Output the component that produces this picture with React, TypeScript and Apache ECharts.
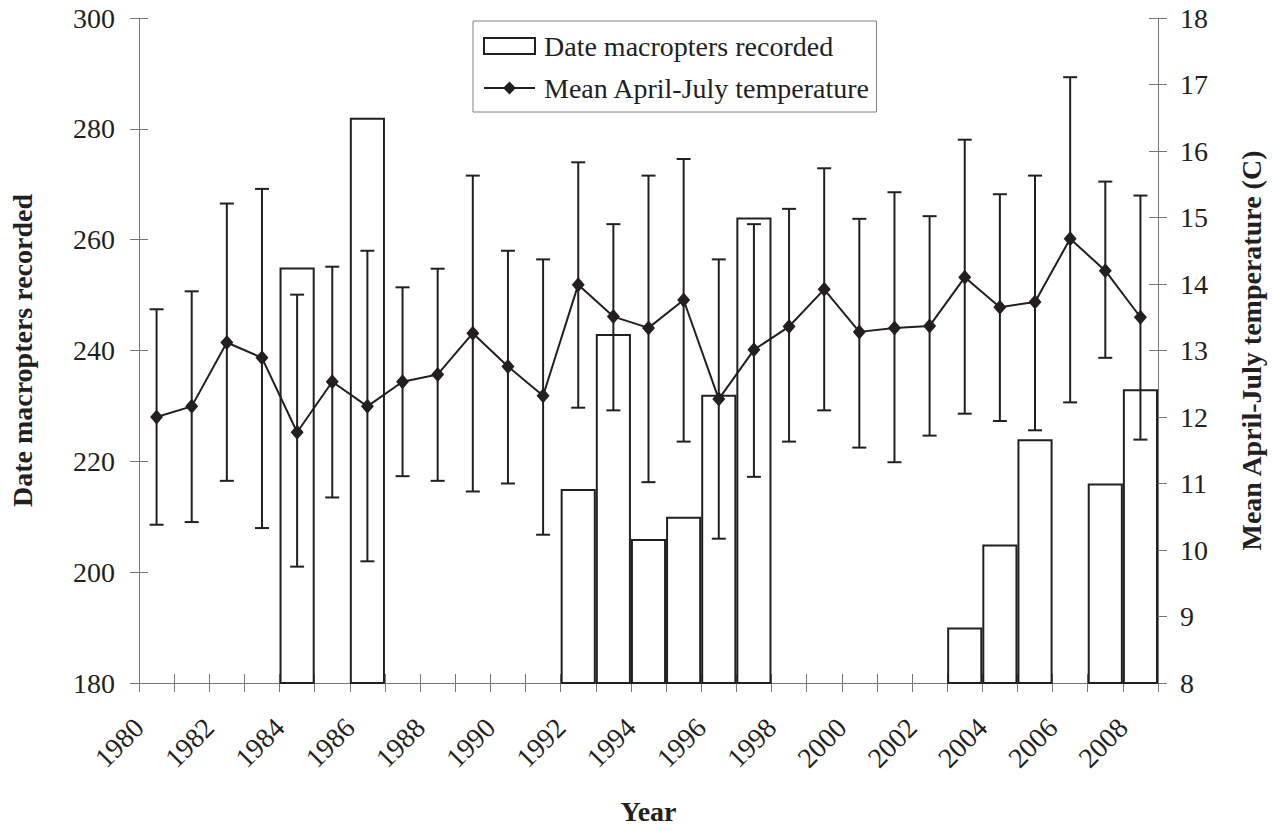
import React, { useEffect, useRef } from 'react';
import * as echarts from 'echarts';

const years = [
  '1980', '1981', '1982', '1983', '1984', '1985', '1986', '1987', '1988', '1989',
  '1990', '1991', '1992', '1993', '1994', '1995', '1996', '1997', '1998', '1999',
  '2000', '2001', '2002', '2003', '2004', '2005', '2006', '2007', '2008',
];

const tickLabels = [
  '1980', '1982', '1984', '1986', '1988', '1990', '1992', '1994',
  '1996', '1998', '2000', '2002', '2004', '2006', '2008',
];

const macropterDates = [
  null, null, null, null, 255, null, 282, null, null, null,
  null, null, 215, 243, 206, 210, 232, 264, null, null,
  null, null, null, 190, 205, 224, null, 216, 233,
];

const meanTemp = [
  12.0, 12.16, 13.12, 12.89, 11.77, 12.53, 12.16, 12.53, 12.64, 13.26,
  12.76, 12.32, 13.99, 13.51, 13.34, 13.76, 12.27, 13.01, 13.36, 13.92,
  13.28, 13.34, 13.37, 14.1, 13.65, 13.73, 14.68, 14.2, 13.5,
];

const tempLow = [
  10.38, 10.42, 11.04, 10.33, 9.75, 10.79, 9.83, 11.11, 11.04, 10.88,
  11.0, 10.23, 12.14, 12.1, 11.02, 11.63, 10.17, 11.1, 11.63, 12.1,
  11.54, 11.32, 11.72, 12.05, 11.94, 11.8, 12.22, 12.89, 11.66,
];

const tempHigh = [
  13.62, 13.89, 15.21, 15.43, 13.84, 14.26, 14.5, 13.95, 14.23, 15.63,
  14.5, 14.37, 15.83, 14.9, 15.63, 15.88, 14.37, 14.9, 15.13, 15.74,
  14.98, 15.38, 15.02, 16.17, 15.35, 15.63, 17.11, 15.54, 15.33,
];

const leftTitle = 'Date macropters recorded';
const rightTitle = 'Mean April-July temperature (C)';
const xTitle = 'Year';
const barName = 'Date macropters recorded';
const lineName = 'Mean April-July temperature';

export default function App() {
  const ref = useRef<HTMLDivElement>(null);

  useEffect(() => {
    if (!ref.current) return;
    const chart = echarts.init(ref.current, null, { renderer: 'svg' });
    const ink = '#231f20';
    const axisGray = '#777777';
    const font = 'Liberation Serif';
    const errData = years.map((_, i) => [i, tempLow[i], tempHigh[i]]);

    const renderErr = (params: any, api: any) => {
      const x = api.value(0);
      const lo = api.coord([x, api.value(1)]);
      const hi = api.coord([x, api.value(2)]);
      const half = 7;
      const style = { stroke: ink, lineWidth: 2, fill: 'none' };
      return {
        type: 'group',
        children: [
          { type: 'line', shape: { x1: hi[0], y1: hi[1], x2: lo[0], y2: lo[1] }, style },
          { type: 'line', shape: { x1: hi[0] - half, y1: hi[1], x2: hi[0] + half, y2: hi[1] }, style },
          { type: 'line', shape: { x1: lo[0] - half, y1: lo[1], x2: lo[0] + half, y2: lo[1] }, style },
        ],
      };
    };

    const tickStyle = { color: axisGray, width: 1 };

    chart.setOption({
      animation: false,
      backgroundColor: '#ffffff',
      textStyle: { fontFamily: font },
      grid: { left: 137, right: 112, top: 18, bottom: 146 },
      legend: {
        data: [{ name: barName, icon: 'rect' }, { name: lineName }],
        orient: 'vertical',
        left: 473,
        top: 21,
        padding: [11, 6, 10, 10],
        itemGap: 14,
        itemWidth: 51,
        itemHeight: 16,
        borderColor: '#808080',
        borderWidth: 1,
        backgroundColor: '#ffffff',
        textStyle: { fontSize: 28, color: ink, fontFamily: font, padding: [0, 0, 0, 4] },
      },
      xAxis: [
        {
          type: 'category',
          data: years,
          boundaryGap: true,
          axisLine: { show: true, lineStyle: tickStyle },
          axisTick: { show: true, interval: 0, length: 9, lineStyle: tickStyle },
          axisLabel: { show: false },
          splitLine: { show: false },
          name: xTitle,
          nameLocation: 'middle',
          nameGap: 114,
          nameTextStyle: { fontSize: 28, fontWeight: 'bold', color: ink, fontFamily: font },
        },
        {
          type: 'value',
          min: 0,
          max: years.length,
          interval: 1,
          position: 'bottom',
          axisLine: { show: false },
          axisTick: { show: true, inside: true, length: 9, lineStyle: tickStyle },
          splitLine: { show: false },
          axisLabel: {
            rotate: 45,
            fontSize: 28,
            color: ink,
            fontFamily: font,
            margin: 40,
            formatter: (v: number) =>
              v % 2 === 0 && v / 2 < tickLabels.length ? tickLabels[v / 2] : '',
          },
        },
      ],
      yAxis: [
        {
          type: 'value',
          position: 'left',
          min: 180,
          max: 300,
          interval: 20,
          axisLine: { show: true, lineStyle: tickStyle },
          axisTick: { show: true, length: 9, lineStyle: tickStyle },
          axisLabel: { fontSize: 28, color: ink, margin: 24, fontFamily: font },
          splitLine: { show: false },
          name: leftTitle,
          nameLocation: 'middle',
          nameRotate: 90,
          nameGap: 103,
          nameTextStyle: { fontSize: 28, fontWeight: 'bold', color: ink, fontFamily: font },
        },
        {
          type: 'value',
          position: 'left',
          min: 180,
          max: 300,
          interval: 20,
          axisLine: { show: false },
          axisTick: { show: true, inside: true, length: 9, lineStyle: tickStyle },
          axisLabel: { show: false },
          splitLine: { show: false },
        },
        {
          type: 'value',
          position: 'right',
          min: 8,
          max: 18,
          interval: 1,
          axisLine: { show: true, lineStyle: tickStyle },
          axisTick: { show: true, length: 9, lineStyle: tickStyle },
          axisLabel: { fontSize: 28, color: ink, margin: 22, fontFamily: font },
          splitLine: { show: false },
          name: rightTitle,
          nameLocation: 'middle',
          nameRotate: 90,
          nameGap: 79,
          nameTextStyle: { fontSize: 28, fontWeight: 'bold', color: ink, fontFamily: font },
        },
        {
          type: 'value',
          position: 'right',
          min: 8,
          max: 18,
          interval: 1,
          axisLine: { show: false },
          axisTick: { show: true, inside: true, length: 9, lineStyle: tickStyle },
          axisLabel: { show: false },
          splitLine: { show: false },
        },
      ],
      series: [
        {
          name: barName,
          type: 'bar',
          xAxisIndex: 0,
          yAxisIndex: 0,
          data: macropterDates,
          barWidth: '100%',
          itemStyle: { color: '#ffffff', borderColor: ink, borderWidth: 2 },
          z: 2,
        },
        {
          type: 'custom',
          xAxisIndex: 0,
          yAxisIndex: 2,
          data: errData,
          encode: { x: 0, y: [1, 2] },
          renderItem: renderErr,
          silent: true,
          z: 3,
        },
        {
          name: lineName,
          type: 'line',
          xAxisIndex: 0,
          yAxisIndex: 2,
          data: meanTemp,
          symbol: 'diamond',
          symbolSize: [13, 15],
          lineStyle: { color: ink, width: 2 },
          itemStyle: { color: ink },
          z: 4,
        },
      ],
    });

    return () => chart.dispose();
  }, []);

  return (
    <div
      ref={ref}
      style={{ position: 'fixed', left: 0, top: 0, width: 1273, height: 830, background: '#fff' }}
    />
  );
}
